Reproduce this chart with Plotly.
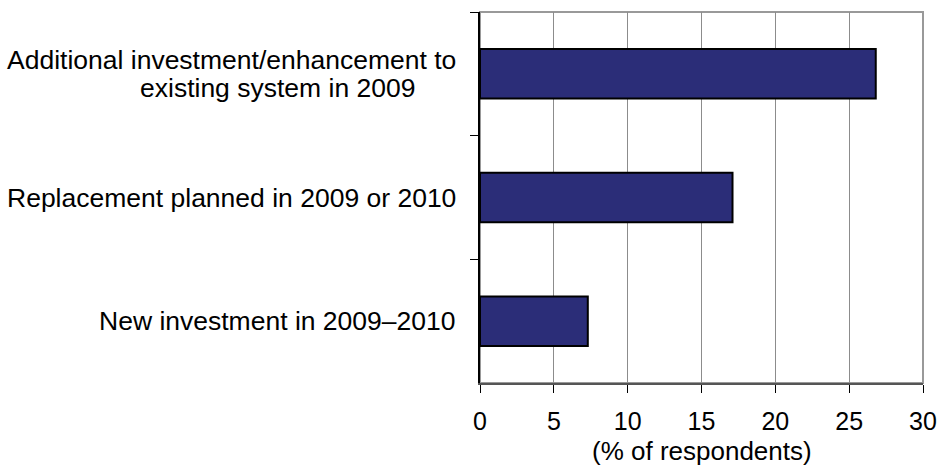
import plotly.graph_objects as go

# Survey responses, listed top to bottom
categories = [
    "Additional investment/enhancement to existing system in 2009",
    "Replacement planned in 2009 or 2010",
    "New investment in 2009–2010",
]
label_lines = [
    ["Additional investment/enhancement to", "existing system in 2009"],
    ["Replacement planned in 2009 or 2010"],
    ["New investment in 2009–2010"],
]
values = [26.8, 17.1, 7.3]
x_ticks = [0, 5, 10, 15, 20, 25, 30]
x_title = "(% of respondents)"

FONT = "'Liberation Sans', Arial, sans-serif"
BAR_FILL = "#2B2D78"
FS = 26.5
FS_AXIS = 25

fig = go.Figure(
    go.Bar(
        y=categories,
        x=values,
        orientation="h",
        marker=dict(color=BAR_FILL, line=dict(color="black", width=2)),
        hoverinfo="x+y",
    )
)

# Category labels: long lines sit flush against the axis, shorter ones are
# centred in the label column (as wrapped spreadsheet axis labels are).
annotations = []
for cat, lines in zip(categories, label_lines):
    n = len(lines)
    for i, line in enumerate(lines):
        wide = len(line) > 30
        annotations.append(
            dict(
                text=line,
                xref="paper",
                yref="y",
                x=0,
                y=cat,
                xanchor="right" if wide else "center",
                xshift=-22 if wide else -203,
                yshift=(n - 1) * 14.2 - i * 28.4,
                yanchor="middle",
                showarrow=False,
                font=dict(family=FONT, size=FS, color="black"),
            )
        )

# Value-axis title, centred under the plot area
annotations.append(
    dict(
        text=x_title,
        xref="paper",
        yref="paper",
        x=0.5,
        y=0,
        xanchor="center",
        yanchor="middle",
        yshift=-68,
        showarrow=False,
        font=dict(family=FONT, size=FS_AXIS + 1, color="black"),
    )
)

fig.update_layout(
    width=941,
    height=470,
    margin=dict(l=480, r=18, t=12, b=87, autoexpand=False),
    paper_bgcolor="white",
    plot_bgcolor="white",
    bargap=0.6,
    showlegend=False,
    font=dict(family=FONT, size=FS, color="black"),
    annotations=annotations,
    shapes=[
        dict(
            type="rect",
            xref="paper",
            yref="paper",
            x0=0,
            x1=1,
            y0=0,
            y1=1,
            line=dict(color="#999999", width=2),
            layer="below",
        )
    ],
    xaxis=dict(
        range=[0, 30],
        tickvals=x_ticks,
        ticktext=[str(t) for t in x_ticks],
        ticks="outside",
        ticklen=8,
        tickcolor="black",
        tickwidth=1,
        showgrid=True,
        gridcolor="#8c8c8c",
        gridwidth=1,
        showline=True,
        linecolor="#555555",
        linewidth=1.5,
        zeroline=False,
        automargin=False,
        tickfont=dict(family=FONT, size=FS_AXIS, color="black"),
        ticklabelstandoff=7,
    ),
    yaxis=dict(
        type="category",
        categoryorder="array",
        categoryarray=categories,
        autorange="reversed",
        showticklabels=False,
        ticks="outside",
        tickson="boundaries",
        ticklen=8,
        tickcolor="black",
        showgrid=False,
        showline=True,
        linecolor="black",
        linewidth=1.5,
        zeroline=False,
        automargin=False,
    ),
)

fig.write_html("out.html")
